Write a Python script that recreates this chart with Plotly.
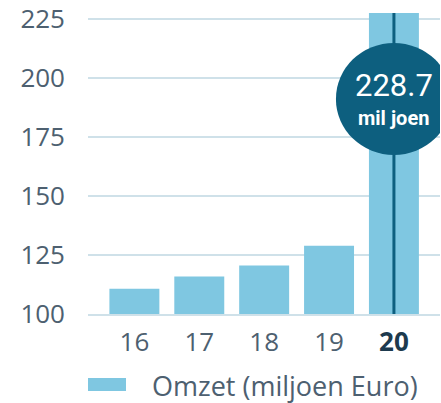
import plotly.graph_objects as go

years = ["16", "17", "18", "19", "20"]
omzet = [110.6, 115.8, 120.5, 128.8, 228.7]
y_ticks = [100, 125, 150, 175, 200, 225]
highlight_value = 228.7
highlight_label = "228.7"
highlight_unit = "mil joen"
legend_label = "Omzet (miljoen Euro)"

bar_color = "#7fc7e1"
dark = "#0d5f7f"
grid_color = "#cfe1e9"
tick_color = "#4d6070"
badge_font = "Roboto"

hl_idx = len(years) - 1
tick_text = [y for y in years[:-1]] + [f"<b><span style='color:#1d3a4e'>{years[-1]}</span></b>"]

fig = go.Figure()
fig.add_trace(go.Bar(
    x=years, y=omzet, marker=dict(color=bar_color, line=dict(width=0)),
    name=legend_label, showlegend=False,
))

# vertical highlight line through last bar
fig.add_shape(type="line", xref="x", yref="y", x0=hl_idx, x1=hl_idx,
              y0=100, y1=highlight_value, line=dict(color=dark, width=3), layer="above")
# circle badge
fig.add_shape(type="circle", xref="x", yref="y", xsizemode="pixel", ysizemode="pixel",
              xanchor=hl_idx, yanchor=191, x0=-58, x1=58, y0=-56, y1=56,
              fillcolor=dark, line=dict(width=0), layer="above")
fig.add_annotation(xref="x", yref="y", x=hl_idx, y=191, yshift=13, text=highlight_label,
                   showarrow=False, font=dict(family=badge_font, size=31, color="white"))
fig.add_annotation(xref="x", yref="y", x=hl_idx, y=191, yshift=-19, text=f"<b>{highlight_unit}</b>",
                   showarrow=False, font=dict(family=badge_font, size=20, color="white"))

# legend swatch + label
fig.add_shape(type="rect", xref="paper", yref="paper", x0=0, x1=38 / 352, y0=-0.256, y1=-0.213,
              fillcolor=bar_color, line=dict(width=0))
fig.add_annotation(xref="paper", yref="paper", x=62 / 352, y=-0.236, xanchor="left", yanchor="middle",
                   text=legend_label, showarrow=False,
                   font=dict(family="Open Sans", size=27, color=tick_color))

fig.update_layout(
    width=441, height=403,
    margin=dict(l=88, r=1, t=13, b=89),
    paper_bgcolor="white", plot_bgcolor="white",
    bargap=0.23,
    showlegend=False,
    hovermode=False,
)
fig.update_xaxes(
    type="category", range=[-0.715, 4.71], tickmode="array", tickvals=years, ticktext=tick_text,
    showgrid=False, showline=True, linecolor=grid_color, linewidth=2, automargin=False,
    tickfont=dict(family="Open Sans", size=26, color=tick_color), ticks="", ticklabelstandoff=4,
)
fig.update_yaxes(
    range=[99.95, 227.4], tickmode="array", tickvals=y_ticks, automargin=False,
    showgrid=True, gridcolor=grid_color, gridwidth=2, zeroline=False, showline=False,
    tickfont=dict(family="Open Sans", size=26, color=tick_color), ticks="", ticklabelstandoff=22,
    ticklabeloverflow="allow",
)

fig.write_html("out.html", config={"displayModeBar": False},
               post_script="document.body.style.margin='0px';")
